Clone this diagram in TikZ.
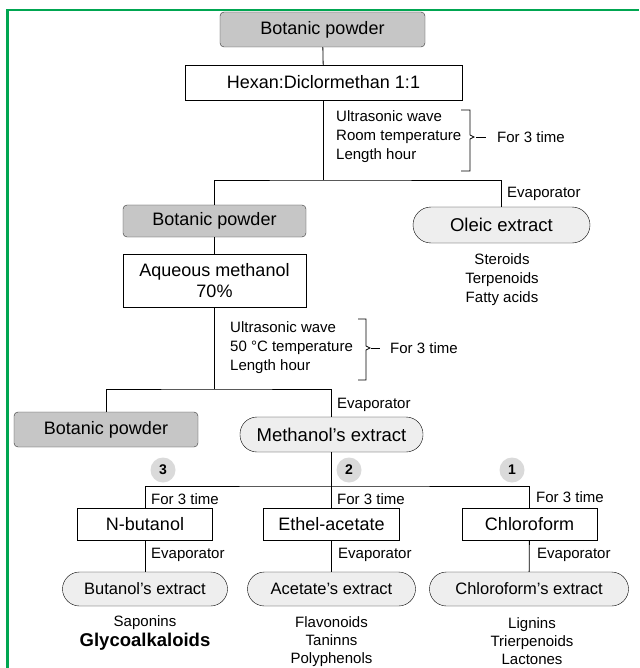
\documentclass[tikz,border=0pt]{standalone}
\usepackage{fontspec}
\setmainfont{Liberation Sans}
\definecolor{framegreen}{HTML}{00A651}
\definecolor{powdergray}{HTML}{C6C6C6}
\definecolor{extractgray}{HTML}{EEEEEE}
\definecolor{stepgray}{HTML}{DADADA}
\tikzset{
  powder/.style={draw=black!80, fill=powdergray, rounded corners=4pt, inner sep=0pt,
    font=\fontsize{18}{20}\selectfont},
  solvent/.style={draw, fill=white, inner sep=0pt, align=center,
    font=\fontsize{18}{21}\selectfont},
  extract/.style={draw, fill=extractgray, rounded corners=17pt, inner sep=0pt,
    minimum height=34pt, font=\fontsize{16.5}{19}\selectfont},
  note/.style={inner sep=0pt, font=\fontsize{15}{19}\selectfont},
  stepno/.style={circle, fill=stepgray, minimum size=25pt, inner sep=0pt,
    font=\bfseries\fontsize{14}{16}\selectfont},
  link/.style={line width=0.8pt},
}
\begin{document}
\begin{tikzpicture}[x=1pt, y=-1pt]
  \useasboundingbox (0,0) rectangle (639,668);
  % Frame
  \draw[framegreen, line width=2.5pt] (7.5,668) -- (7.5,10) -- (639,10);

  % First extraction
  \node[powder, minimum width=205pt, minimum height=35pt] (bp1) at (322.5,29.5) {Botanic powder};
  \node[solvent, minimum width=277pt, minimum height=35pt] (hex) at (323.5,82.5) {Hexan:Diclormethan 1:1};
  \node[note, anchor=west, align=left] (cond1) at (336,137) {Ultrasonic wave\\Room temperature\\Length hour};
  \node[note, anchor=west] (rep1) at (497,137) {For 3 time};
  \coordinate (j1) at (323.5,180);
  \node[powder, minimum width=183pt, minimum height=32pt] (bp2) at (214.5,221) {Botanic powder};
  \node[extract, minimum width=177pt, minimum height=36pt, rounded corners=18pt,
    font=\fontsize{18.5}{21}\selectfont] (oleic) at (501.5,225) {Oleic extract};
  \node[note, anchor=west] (ev1) at (507,194) {Evaporator};
  \node[note, align=center] (out1) at (502,279.5) {Steroids\\Terpenoids\\Fatty acids};

  % Second extraction
  \node[solvent, minimum width=183pt, minimum height=53pt] (aq) at (214.5,280.5) {Aqueous methanol\\70\%};
  \node[note, anchor=west, align=left] (cond2) at (230,348) {Ultrasonic wave\\50 °C temperature\\Length hour};
  \node[note, anchor=west] (rep2) at (390,348) {For 3 time};
  \coordinate (j2) at (214.5,389);
  \node[powder, minimum width=184pt, minimum height=35pt] (bp3) at (106,429.5) {Botanic powder};
  \node[extract, minimum width=183pt, minimum height=35pt,
    font=\fontsize{18.5}{21}\selectfont] (meth) at (331.5,434.5) {Methanol’s extract};
  \node[note, anchor=west] (ev2) at (337,405) {Evaporator};

  % Fractions
  \coordinate (j3) at (331.5,486);
  \node[stepno] (s3) at (163,470) {3};
  \node[stepno] (s2) at (349,470) {2};
  \node[stepno] (s1) at (512,470) {1};
  \node[solvent, minimum width=135pt, minimum height=32pt] (nbut) at (145,524) {N-butanol};
  \node[solvent, minimum width=136pt, minimum height=32pt] (ethel) at (331.5,524) {Ethel-acetate};
  \node[solvent, minimum width=135pt, minimum height=32pt] (chl) at (529.5,524) {Chloroform};
  \node[note, anchor=west] (rep3) at (151,499) {For 3 time};
  \node[note, anchor=west] (rep4) at (337,499) {For 3 time};
  \node[note, anchor=west] (rep5) at (536,497) {For 3 time};
  \node[extract, minimum width=165pt] (bext) at (145,589) {Butanol’s extract};
  \node[extract, minimum width=168pt] (aext) at (331.5,589) {Acetate’s extract};
  \node[extract, minimum width=199pt] (cext) at (529,589) {Chloroform’s extract};
  \node[note, anchor=west] (ev3) at (151,555) {Evaporator};
  \node[note, anchor=west] (ev4) at (338,555) {Evaporator};
  \node[note, anchor=west] (ev5) at (537,555) {Evaporator};
  \node[note, align=center] (out2) at (145,633) {Saponins\\[1pt]{\bfseries\fontsize{18.5}{21}\selectfont Glycoalkaloids}};
  \node[note, align=center, font=\fontsize{15}{18}\selectfont] (out3) at (331.5,641.5) {Flavonoids\\Taninns\\Polyphenols};
  \node[note, align=center, font=\fontsize{15}{18}\selectfont] (out4) at (532,641) {Lignins\\Trierpenoids\\Lactones};

  % Brackets
  \draw[link] (461,110) -- (470,110) -- (470,135) -- (474,137) -- (470,139) -- (470,171) -- (461,171);
  \draw[link] (476,137) -- (486,137);
  \draw[link] (358,319) -- (366,319) -- (366,346) -- (370,348) -- (366,350) -- (366,380) -- (358,380);
  \draw[link] (371,348) -- (380,348);

  % Connectors
  \draw[link] (bp1) -- (hex);
  \draw[link] (hex) -- (j1);
  \draw[link] (bp2.north) |- (j1) -| (oleic.north);
  \draw[link] (bp2) -- (aq);
  \draw[link] (aq) -- (j2);
  \draw[link] (bp3.north) |- (j2) -| (meth.north);
  \draw[link] (meth) -- (j3);
  \draw[link] (nbut.north) |- (j3) -| (chl.north);
  \draw[link] (j3) -- (ethel);
  \draw[link] (nbut) -- (bext);
  \draw[link] (ethel) -- (aext);
  \draw[link] (chl) -- (cext);
\end{tikzpicture}
\end{document}
